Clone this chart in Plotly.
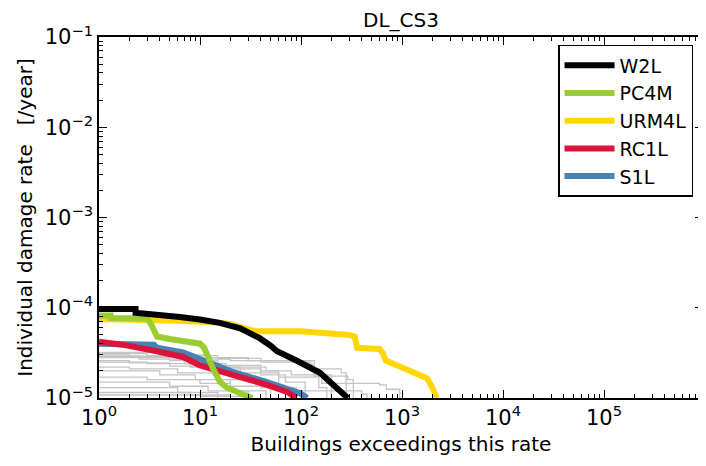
import plotly.graph_objects as go

# ---- data ----
series_names = ["W2L", "PC4M", "URM4L", "RC1L", "S1L"]
series_colors = ["#000000", "#9acd32", "#ffd700", "#dc143c", "#4682b4"]

w2l_x = [1, 2.3, 2.3, 4, 6.3, 10, 15.7, 25, 39, 50, 58, 90, 122, 154, 208, 250, 290]
w2l_y = [9.7e-5, 9.7e-5, 8.8e-5, 8.4e-5, 7.9e-5, 7.4e-5, 6.8e-5, 5.9e-5, 4.6e-5, 3.8e-5, 3.3e-5, 2.6e-5, 2.2e-5, 1.9e-5, 1.4e-5, 1.15e-5, 1.0e-5]

pc4m_x = [1, 1.3, 1.3, 3.0, 3.3, 3.75, 5, 7, 10, 11, 12.5, 13.5, 15.8, 18.5, 25, 33]
pc4m_y = [8.2e-5, 8.2e-5, 7.7e-5, 7.6e-5, 6.5e-5, 4.8e-5, 4.5e-5, 4.2e-5, 4.0e-5, 3.6e-5, 2.4e-5, 2.1e-5, 1.5e-5, 1.3e-5, 1.13e-5, 1.0e-5]

urm4l_x = [1, 3, 6, 13.5, 20, 28, 35, 100, 200, 300, 340, 360, 600, 650, 690, 900, 1400, 1770, 2000, 2200]
urm4l_y = [7.5e-5, 7.4e-5, 7.2e-5, 6.9e-5, 6.6e-5, 5.9e-5, 5.5e-5, 5.5e-5, 5.3e-5, 5.0e-5, 4.8e-5, 3.6e-5, 3.5e-5, 3.1e-5, 2.6e-5, 2.3e-5, 1.9e-5, 1.65e-5, 1.3e-5, 1.0e-5]

rc1l_x = [1, 1.7, 3.75, 6.8, 10, 15.8, 23, 46, 73, 90]
rc1l_y = [4.2e-5, 3.9e-5, 3.3e-5, 2.85e-5, 2.3e-5, 2.0e-5, 1.75e-5, 1.4e-5, 1.17e-5, 1.0e-5]

s1l_x = [1, 1.7, 3.5, 3.75, 6.8, 10, 15, 21, 46, 70, 98, 115]
s1l_y = [4.0e-5, 4.0e-5, 3.9e-5, 3.6e-5, 3.2e-5, 2.7e-5, 2.3e-5, 1.95e-5, 1.5e-5, 1.3e-5, 1.13e-5, 1.0e-5]

# gray background building classes (step curves)
gray_x = [
    [1, 4, 12, 30, 110, 125, 160, 600, 700, 950],
    [1, 2, 6, 20, 120, 135, 290, 330],
    [1, 5, 15, 40, 80, 200],
    [1, 3, 8, 25, 60, 150, 180],
    [1, 2, 6, 15, 40, 90],
    [1, 4, 9, 20, 50],
    [1, 3, 10, 20, 45],
    [1, 5, 12, 30],
    [1, 6, 15],
    [1, 8, 20],
    [1, 3, 15, 40, 100, 130, 250, 280],
    [1, 2, 5, 14, 40, 70, 110],
    [1, 10, 30],
    [1, 2.5, 7, 18, 45, 60, 400, 450],
]
gray_y = [
    [3.2e-5, 3.0e-5, 2.8e-5, 2.6e-5, 2.5e-5, 2.0e-5, 1.45e-5, 1.4e-5, 1.25e-5, 1.0e-5],
    [3.0e-5, 2.9e-5, 2.7e-5, 2.6e-5, 2.6e-5, 1.75e-5, 1.6e-5, 1.0e-5],
    [2.8e-5, 2.6e-5, 2.3e-5, 2.0e-5, 1.8e-5, 1.0e-5],
    [2.5e-5, 2.4e-5, 2.2e-5, 1.9e-5, 1.7e-5, 1.3e-5, 1.0e-5],
    [2.2e-5, 2.1e-5, 1.9e-5, 1.6e-5, 1.3e-5, 1.0e-5],
    [2.0e-5, 1.8e-5, 1.6e-5, 1.35e-5, 1.0e-5],
    [1.7e-5, 1.6e-5, 1.45e-5, 1.2e-5, 1.0e-5],
    [1.5e-5, 1.35e-5, 1.2e-5, 1.0e-5],
    [1.3e-5, 1.15e-5, 1.0e-5],
    [1.15e-5, 1.08e-5, 1.0e-5],
    [3.1e-5, 2.95e-5, 2.75e-5, 2.5e-5, 2.35e-5, 2.1e-5, 1.9e-5, 1.0e-5],
    [2.6e-5, 2.45e-5, 2.25e-5, 2.1e-5, 1.8e-5, 1.5e-5, 1.0e-5],
    [1.08e-5, 1.04e-5, 1.0e-5],
    [2.9e-5, 2.7e-5, 2.4e-5, 2.2e-5, 2.0e-5, 1.2e-5, 1.1e-5, 1.0e-5],
]

x_exps = [0, 1, 2, 3, 4, 5]
y_exps = [-5, -4, -3, -2, -1]

FONT = "DejaVu Sans"


def sci_label(e):
    s = str(e).replace("-", "\u2212")
    return f"10<sup>{s}</sup>"


fig = go.Figure()

for gx, gy in zip(gray_x, gray_y):
    fig.add_trace(go.Scatter(x=gx, y=gy, mode="lines", line=dict(color="#c4c4c4", width=1.3, shape="hv"),
                             showlegend=False, hoverinfo="skip"))

series = {
    "W2L": (w2l_x, w2l_y),
    "PC4M": (pc4m_x, pc4m_y),
    "URM4L": (urm4l_x, urm4l_y),
    "RC1L": (rc1l_x, rc1l_y),
    "S1L": (s1l_x, s1l_y),
}
draw_order = ["S1L", "RC1L", "URM4L", "PC4M", "W2L"]
for name in draw_order:
    i = series_names.index(name)
    xs, ys = series[name]
    fig.add_trace(go.Scatter(x=xs, y=ys, mode="lines", name=name,
                             line=dict(color=series_colors[i], width=6),
                             legendrank=i + 1, legendgroup=name))

x_minor = [m * 10 ** e for e in range(0, 6) for m in range(2, 10)]
y_minor = [m * 10 ** e for e in range(-5, -1) for m in range(2, 10)]

axis_common = dict(
    type="log", showline=True, linecolor="black", linewidth=1.5, mirror="allticks",
    ticks="inside", ticklen=8, tickwidth=1.2, tickcolor="black", showgrid=False, zeroline=False,
    tickfont=dict(family=FONT, size=21, color="black"), automargin=False,
)

fig.update_xaxes(
    **axis_common, range=[0, 5.98],
    tickmode="array", tickvals=[10 ** e for e in x_exps],
    ticktext=[sci_label(e) for e in x_exps],
    minor=dict(tickmode="array", tickvals=x_minor, ticks="inside", ticklen=4, tickcolor="black", tickwidth=1, showgrid=False),
    title=dict(text="Buildings exceedings this rate", font=dict(family=FONT, size=20, color="black"), standoff=8),
)
fig.update_yaxes(
    **axis_common, range=[-5, -1],
    tickmode="array", tickvals=[10 ** e for e in y_exps],
    ticktext=[sci_label(e) for e in y_exps],
    minor=dict(tickmode="array", tickvals=y_minor, ticks="inside", ticklen=4, tickcolor="black", tickwidth=1, showgrid=False),
    title=dict(text="Individual damage rate\u00a0\u00a0\u00a0[/year]", font=dict(family=FONT, size=20, color="black"), standoff=7),
)

# page body has an 8px margin, so the figure is sized/offset to compensate
fig.update_layout(
    width=698, height=458,
    margin=dict(l=91, r=3, t=29, b=68),
    paper_bgcolor="white", plot_bgcolor="white",
    title=dict(text="DL_CS3", x=0.5, xref="paper", xanchor="center", y=1 - 12 / 458, yref="container", yanchor="middle",
               font=dict(family=FONT, size=20, color="black")),
    legend=dict(x=0.76, y=0.978, xanchor="left", yanchor="top", bordercolor="black", borderwidth=1.5,
                bgcolor="white", font=dict(family=FONT, size=19, color="black"),
                tracegroupgap=0, itemwidth=50, entrywidth=74, entrywidthmode="pixels"),
    showlegend=True,
)

fig.write_html("out.html")
